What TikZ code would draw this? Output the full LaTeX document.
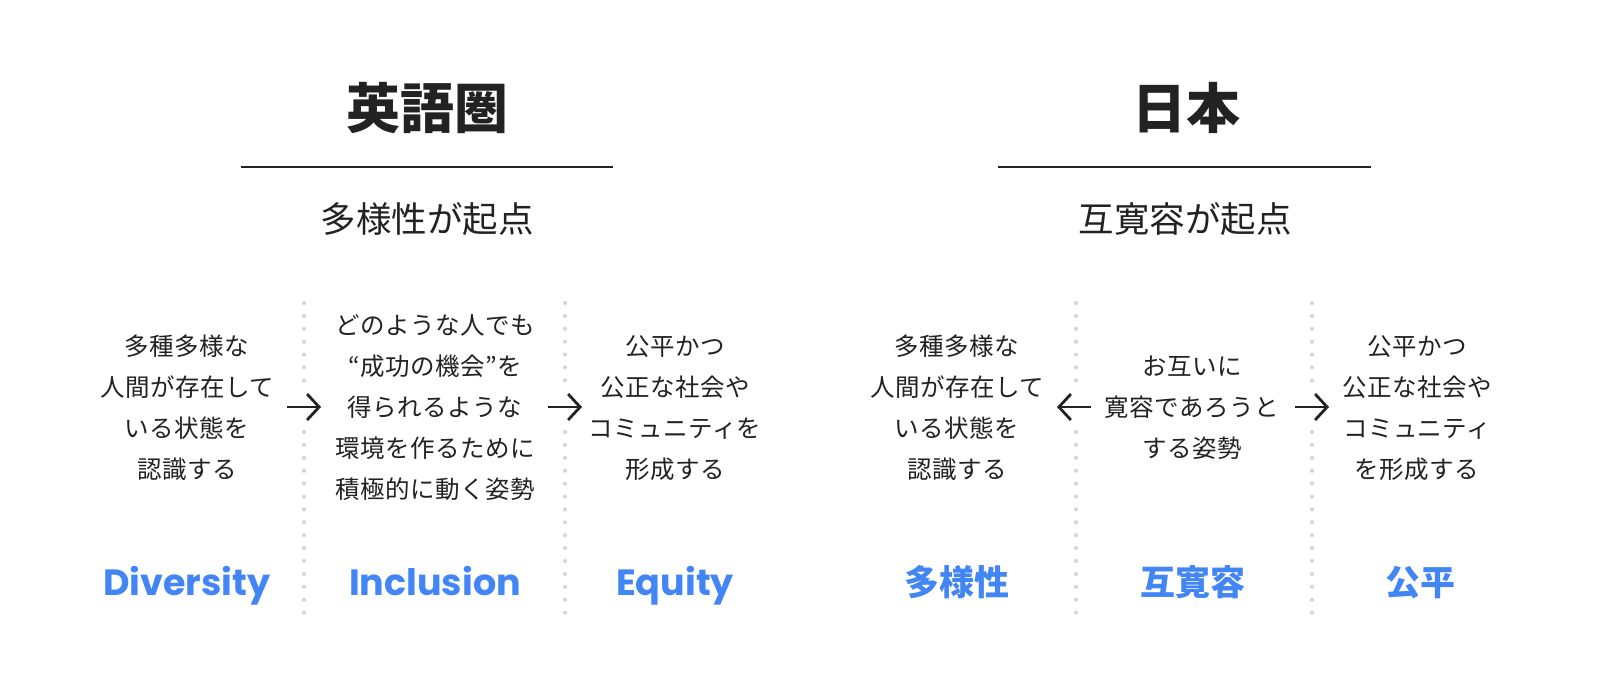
\documentclass[tikz,border=0pt]{standalone}
\usepackage{fontspec}
\setmainfont{Noto Sans CJK JP}
\newfontfamily\latinlabel{Poppins}
\usetikzlibrary{arrows.meta}
\definecolor{ink}{HTML}{222222}
\definecolor{gblue}{HTML}{4285F4}
\definecolor{dotgray}{HTML}{D6D6D6}
\tikzset{
  title/.style={anchor=base, text=ink, font=\fontsize{54}{60}\selectfont\bfseries, inner sep=0pt},
  subtitle/.style={anchor=base, text=ink, font=\fontsize{35.5}{40}\selectfont, inner sep=0pt},
  body/.style={anchor=center, text=ink, align=center, font=\fontsize{24.5}{41}\selectfont\addfontfeature{LetterSpace=2}, inner sep=0pt},
  label/.style={anchor=base, text=gblue, font=\fontsize{35}{40}\selectfont\bfseries, inner sep=0pt},
  latlabel/.style={anchor=base, text=gblue, font=\latinlabel\fontsize{36.5}{40}\selectfont\bfseries, inner sep=0pt},
  rule/.style={draw=ink, line width=1.5pt},
  flow/.style={draw=ink, line width=2.8pt, -{Straight Barb[length=12pt,width=26pt]}},
}
\begin{document}
\begin{tikzpicture}[x=1pt,y=-1pt]
\useasboundingbox[fill=white] (0,0) rectangle (1600,693);

% titles
\node[title] (tEN) at (427,128) {英語圏};
\node[title] (tJP) at (1186,128) {日本};
\coordinate (lENa) at (241,167); \coordinate (lENb) at (613,167);
\coordinate (lJPa) at (998,167); \coordinate (lJPb) at (1371,167);
\draw[rule] (lENa) -- (lENb);
\draw[rule] (lJPa) -- (lJPb);
\node[subtitle] (sEN) at (427,232) {多様性が起点};
\node[subtitle] (sJP) at (1185,232) {互寛容が起点};

% dotted separators
\foreach \x in {304,565,1076,1312}{
  \foreach \i in {0,...,24}{
    \ifnum\i=7\relax\else\ifnum\i=8\relax\else\ifnum\i=9\relax\else
      \fill[dotgray] (\x,303+12.9*\i) circle[radius=2.1pt];
    \fi\fi\fi
  }
}

% body texts
\node[body] (b1) at (187,408) {多種多様な\\人間が存在して\\いる状態を\\認識する};
\node[body] (b2) at (435,408) {どのような人でも\\“成功の機会”を\\得られるような\\環境を作るために\\積極的に動く姿勢};
\node[body] (b3) at (675,408.5) {公平かつ\\公正な社会や\\コミュニティを\\形成する};
\node[body] (b4) at (957,408) {多種多様な\\人間が存在して\\いる状態を\\認識する};
\node[body] (b5) at (1192,408) {お互いに\\寛容であろうと\\する姿勢};
\node[body] (b6) at (1417,408.5) {公平かつ\\公正な社会や\\コミュニティ\\を形成する};

% arrows
\coordinate (a1s) at (287,407); \coordinate (a1e) at (321,407);
\coordinate (a2s) at (548,407); \coordinate (a2e) at (582,407);
\coordinate (a3s) at (1091,407); \coordinate (a3e) at (1057,407);
\coordinate (a4s) at (1295,407); \coordinate (a4e) at (1329,407);
\draw[flow] (a1s) -- (a1e);
\draw[flow] (a2s) -- (a2e);
\draw[flow] (a3s) -- (a3e);
\draw[flow] (a4s) -- (a4e);

% labels
\node[latlabel] (l1) at (187,595) {Diversity};
\node[latlabel] (l2) at (435,595) {Inclusion};
\node[latlabel] (l3) at (675,595) {Equity};
\node[label] (l4) at (957,595) {多様性};
\node[label] (l5) at (1193,595) {互寛容};
\node[label] (l6) at (1420,595) {公平};
\end{tikzpicture}
\end{document}
